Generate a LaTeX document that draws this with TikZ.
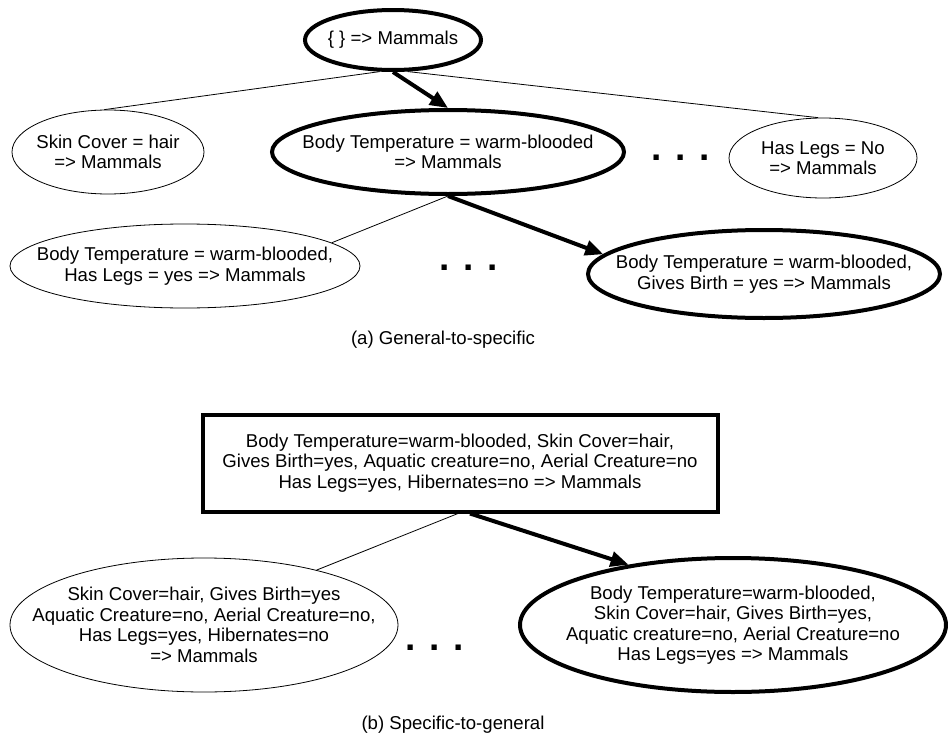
\documentclass[tikz,border=0pt]{standalone}
\usepackage{fontspec}
\setmainfont{Liberation Sans}
\usetikzlibrary{arrows.meta, shapes.geometric}

\begin{document}
\begin{tikzpicture}[
    x=1pt, y=-1pt,
    font=\fontsize{18.6}{20.5}\selectfont,
    node_rule/.style 2 args={ellipse, draw, line width=0.8pt, inner sep=-60pt, minimum width=#1, minimum height=#2, align=center},
    node_best/.style 2 args={node_rule={#1}{#2}, line width=4pt},
    node_box/.style={rectangle, draw, line width=4pt, minimum width=515pt, minimum height=97pt, inner sep=0pt, align=center},
    node_dots/.style={font=\fontsize{37}{37}\selectfont\bfseries, inner sep=0pt},
    edge_line/.style={line width=0.8pt},
    edge_path/.style={-{Triangle[length=18pt, width=15pt]}, line width=4pt}
  ]
    \useasboundingbox (0,0) rectangle (948,736);

    \node[node_best={176pt}{60pt}] (top) at (393,40) {\{ \} => Mammals};

    \node[node_rule={192pt}{84pt}] (skin) at (108,152) {Skin Cover = hair\\=> Mammals};
    \node[node_best={352pt}{84pt}] (bt) at (448,152) {Body Temperature = warm-blooded\\=> Mammals};
    \node[node_dots] (dots1) at (681,158) {. . .};
    \node[node_rule={188pt}{80pt}] (legs) at (823,158) {Has Legs = No\\=> Mammals};

    \node[node_rule={350pt}{84pt}] (bthl) at (185,266) {Body Temperature = warm-blooded,\\Has Legs = yes => Mammals};
    \node[node_dots] (dots2) at (469,268) {. . .};
    \node[node_best={352pt}{88pt}] (btgb) at (764,274) {Body Temperature = warm-blooded,\\Gives Birth = yes => Mammals};

    \node (capa) at (443,340) {(a) General-to-specific};

    \node[node_box] (all) at (460,463) {Body Temperature=warm-blooded, Skin Cover=hair,\\Gives Birth=yes, Aquatic creature=no, Aerial Creature=no\\Has Legs=yes, Hibernates=no => Mammals};

    \node[node_rule={388pt}{134pt}] (drop) at (204,625) {Skin Cover=hair, Gives Birth=yes\\Aquatic Creature=no, Aerial Creature=no,\\Has Legs=yes, Hibernates=no\\=> Mammals};
    \node[node_dots] (dots3) at (435,648) {. . .};
    \node[node_best={426pt}{134pt}] (keep) at (733,625) {Body Temperature=warm-blooded,\\Skin Cover=hair, Gives Birth=yes,\\Aquatic creature=no, Aerial Creature=no\\Has Legs=yes => Mammals};

    \node (capb) at (453,725) {(b) Specific-to-general};

    \draw[edge_line] (top.-113) -- (skin.95);
    \draw[edge_line] (top.-65) -- (legs.97);
    \draw[edge_path] (top.south) -- (bt.north);

    \draw[edge_line] (bt.south) -- (bthl.9);
    \draw[edge_path] (bt.south) -- (btgb.173);

    \draw[edge_line] ([xshift=-2pt]all.south) -- (drop.26);
    \draw[edge_path] ([xshift=10pt]all.south) -- (keep.150);
  \end{tikzpicture}
\end{document}
